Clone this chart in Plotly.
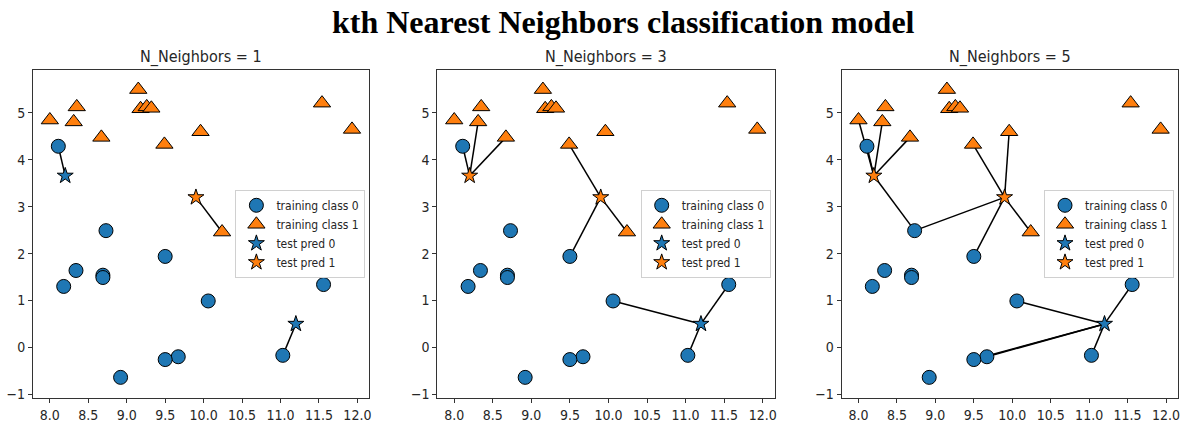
import numpy as np
import plotly.graph_objects as go

# Forge-like training data (feature 0, feature 1, class)
train_x = [9.96, 11.03, 11.54, 8.69, 8.11, 8.31, 11.93, 9.67, 8.35, 8.67, 9.18, 10.24, 8.69,
           8.92, 9.49, 9.26, 8.00, 8.18, 8.73, 9.32, 10.06, 9.50, 8.34, 9.50, 9.15, 11.56]
train_y = [4.60, -0.17, 5.21, 1.54, 4.29, 4.81, 4.65, -0.20, 5.13, 4.48, 5.09, 2.46, 1.49,
           -0.64, 4.33, 5.13, 4.85, 1.30, 2.49, 5.10, 0.99, -0.26, 1.64, 1.94, 5.50, 1.34]
train_cls = [1, 0, 1, 0, 0, 1, 1, 0, 1, 1, 1, 1, 0, 0, 1, 1, 1, 0, 0, 1, 0, 0, 0, 0, 1, 0]

test_x = [8.2, 9.9, 11.2]
test_y = [3.66, 3.2, 0.5]

neighbor_counts = [1, 3, 5]
subplot_titles = ["N_Neighbors = 1", "N_Neighbors = 3", "N_Neighbors = 5"]
legend_labels = ["training class 0", "training class 1", "test pred 0", "test pred 1"]
main_title = "kth Nearest Neighbors classification model"

BLUE = "#1f77b4"
ORANGE = "#ff7f0e"
FONT = "DejaVu Sans Condensed, Liberation Sans Narrow, DejaVu Sans"

W, H = 1185, 427
x_px = [(33, 370), (438, 776), (843, 1180)]
y_top, y_bot = 71, 402

X = np.column_stack([train_x, train_y])
T = np.column_stack([test_x, test_y])
cls = np.array(train_cls)

fig = go.Figure()
for i, k in enumerate(neighbor_counts):
    ax = "" if i == 0 else str(i + 1)
    xa, ya = "x" + ax, "y" + ax
    lg = "legend" + ax
    d = np.sqrt(((T[:, None, :] - X[None, :, :]) ** 2).sum(-1))
    order = np.argsort(d, axis=1)[:, :k]
    lx, ly = [], []
    preds = []
    for t in range(len(T)):
        for n in order[t]:
            lx += [T[t, 0], X[n, 0], None]
            ly += [T[t, 1], X[n, 1], None]
        votes = cls[order[t]]
        preds.append(int(np.bincount(votes, minlength=2).argmax()))
    preds = np.array(preds)
    fig.add_trace(go.Scatter(x=lx, y=ly, mode="lines", line=dict(color="black", width=1.5),
                             xaxis=xa, yaxis=ya, showlegend=False, hoverinfo="skip"))
    for c, col in enumerate([BLUE, ORANGE]):
        m = preds == c
        fig.add_trace(go.Scatter(x=T[m, 0], y=T[m, 1], mode="markers",
                                 marker=dict(symbol="star", size=12, color=col,
                                             line=dict(color="black", width=1)),
                                 name=legend_labels[2 + c], legend=lg, legendrank=3 + c,
                                 xaxis=xa, yaxis=ya))
    for c, (col, sym, sz) in enumerate([(BLUE, "circle", 14), (ORANGE, "triangle-up", 15)]):
        m = cls == c
        fig.add_trace(go.Scatter(x=X[m, 0], y=X[m, 1], mode="markers",
                                 marker=dict(symbol=sym, size=sz, color=col,
                                             line=dict(color="black", width=1)),
                                 name=legend_labels[c], legend=lg, legendrank=1 + c,
                                 xaxis=xa, yaxis=ya))

layout = dict(width=W, height=H, margin=dict(l=0, r=0, t=0, b=0),
              plot_bgcolor="white", paper_bgcolor="white", showlegend=True,
              font=dict(family=FONT, size=14, color="#262626"))
annotations = [dict(text="<b>" + main_title + "</b>", x=625 / W, y=1 - 22 / H,
                    xref="paper", yref="paper", showarrow=False, xanchor="center",
                    yanchor="middle",
                    font=dict(family="Liberation Serif, Times New Roman, serif", size=32,
                              color="black"))]
for i, (l, r) in enumerate(x_px):
    ax = "" if i == 0 else str(i + 1)
    common = dict(showgrid=False, zeroline=False, showline=True, mirror=True,
                  linecolor="#333333", linewidth=1, ticks="outside", ticklen=4,
                  tickcolor="#333333", tickfont=dict(family=FONT, size=14, color="#262626"))
    layout["xaxis" + ax] = dict(domain=[l / W, r / W], range=[7.78, 12.156],
                                tickvals=[8.0, 8.5, 9.0, 9.5, 10.0, 10.5, 11.0, 11.5, 12.0],
                                ticktext=["8.0", "8.5", "9.0", "9.5", "10.0", "10.5", "11.0", "11.5", "12.0"],
                                anchor="y" + ax, **common)
    layout["yaxis" + ax] = dict(domain=[1 - y_bot / H, 1 - y_top / H], range=[-1.085, 5.91],
                                tickvals=[-1, 0, 1, 2, 3, 4, 5],
                                ticktext=["\u22121", "0", "1", "2", "3", "4", "5"],
                                anchor="x" + ax, **common)
    layout["legend" + ax] = dict(x=(r - 4) / W, y=1 - 236 / H, xanchor="right", yanchor="middle",
                                 bgcolor="white", bordercolor="#d0d0d0", borderwidth=1,
                                 font=dict(family=FONT, size=12, color="#262626"),
                                 tracegroupgap=0, itemsizing="trace", itemwidth=30)
    annotations.append(dict(text=subplot_titles[i], x=(l + r) / 2 / W, y=1 - 58 / H,
                            xref="paper", yref="paper", showarrow=False, xanchor="center",
                            yanchor="middle", font=dict(family=FONT, size=16, color="#262626")))
layout["annotations"] = annotations
fig.update_layout(**layout)
fig.write_html("out.html")
